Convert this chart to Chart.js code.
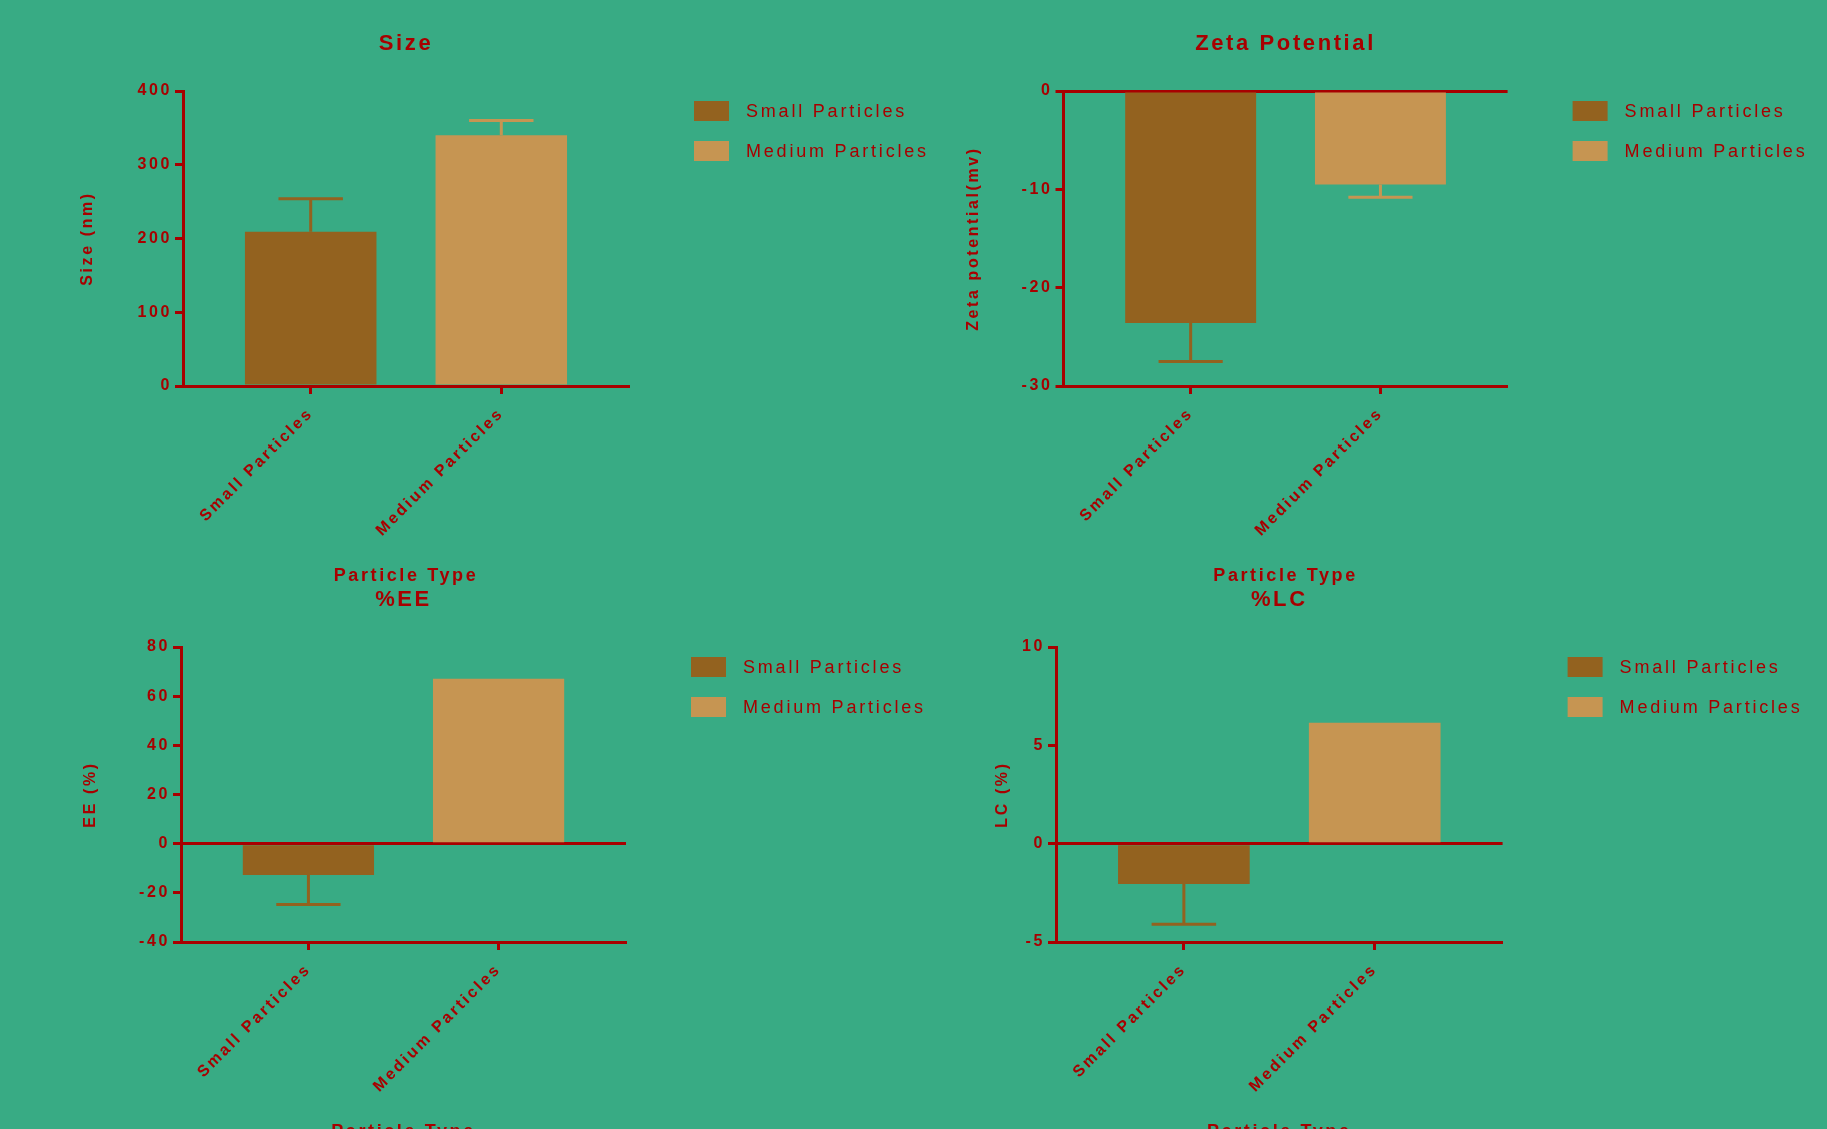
<!DOCTYPE html>
<html>
<head>
<meta charset="utf-8">
<script src="https://cdn.jsdelivr.net/npm/chart.js@4.4.1/dist/chart.umd.min.js"></script>
<style>
  html, body { margin: 0; padding: 0; background: #38ab84; overflow: hidden; }
  body { width: 1827px; height: 1129px; position: relative; }
  canvas { position: absolute; }
</style>
</head>
<body>
<canvas id="chart_size" width="950" height="600" style="left:0px;top:0px"></canvas>
<canvas id="chart_zeta" width="877" height="600" style="left:950px;top:0px"></canvas>
<canvas id="chart_ee" width="950" height="600" style="left:0px;top:556px"></canvas>
<canvas id="chart_lc" width="877" height="600" style="left:950px;top:556px"></canvas>
<script>
// values
const categories = ['Small Particles', 'Medium Particles'];
const x_title = 'Particle Type';

const size_values = [209, 340];
const size_errors = [45, 20];
const size_ticks = [0, 100, 200, 300, 400];

const zeta_values = [-23.6, -9.5];
const zeta_errors = [3.9, 1.3];
const zeta_ticks = [-30, -20, -10, 0];

const ee_values = [-12.7, 67.1];
const ee_errors = [12, 0];
const ee_ticks = [-40, -20, 0, 20, 40, 60, 80];

const lc_values = [-2.05, 6.15];
const lc_errors = [2.05, 0];
const lc_ticks = [-5, 0, 5, 10];

const red = '#a80000';
const bar_colours = ['#93621f', '#c69552'];
const family = '"Liberation Sans", Arial, sans-serif';
Chart.defaults.font.family = family;

// wide letter spacing like the original
const spacingPlugin = {
  id: 'spacing',
  beforeUpdate(chart) { chart.ctx.letterSpacing = '2.6px'; },
  beforeLayout(chart) { chart.ctx.letterSpacing = '2.6px'; },
  beforeDraw(chart) { chart.ctx.letterSpacing = '2.6px'; }
};

// error bars (mean + SD, away from zero)
const errorBarPlugin = {
  id: 'errorBars',
  afterDatasetsDraw(chart) {
    const ctx = chart.ctx;
    const yScale = chart.scales.y;
    chart.data.datasets.forEach((ds, i) => {
      const meta = chart.getDatasetMeta(i);
      meta.data.forEach((bar, j) => {
        const v = ds.data[j].y;
        const e = ds.errors[j];
        if (!e) return;
        const end = yScale.getPixelForValue(v < 0 ? v - e : v + e);
        const half = bar.width * 0.245;
        ctx.save();
        ctx.strokeStyle = ds.backgroundColor;
        ctx.lineWidth = 3;
        ctx.beginPath();
        ctx.moveTo(bar.x, bar.y);
        ctx.lineTo(bar.x, end);
        ctx.moveTo(bar.x - half, end);
        ctx.lineTo(bar.x + half, end);
        ctx.stroke();
        ctx.restore();
      });
    });
  }
};

// legend to the right of the plot, a gap away from it
const sideLegend = {
  id: 'sideLegend',
  afterDraw(chart) {
    const ctx = chart.ctx;
    const area = chart.chartArea;
    ctx.save();
    ctx.letterSpacing = '2.8px';
    ctx.font = '18px ' + family;
    ctx.textBaseline = 'middle';
    chart.data.datasets.forEach((ds, i) => {
      const x = area.right + 65;
      const y = area.top + 10 + i * 40;
      ctx.fillStyle = ds.backgroundColor;
      ctx.fillRect(x, y, 35, 20);
      ctx.fillStyle = red;
      ctx.fillText(ds.label, x + 52, y + 11);
    });
    ctx.restore();
  }
};

function drawChart(canvasId, titleText, yTitleText, values, errors, yTicks, pad) {
  const ctx = document.getElementById(canvasId).getContext('2d');
  return new Chart(ctx, {
    type: 'bar',
    data: {
      datasets: categories.map((name, i) => ({
        label: name,
        data: [{ x: i, y: values[i] }],
        errors: [errors[i]],
        backgroundColor: bar_colours[i],
        borderWidth: 0,
        grouped: false,
        categoryPercentage: 0.69,
        barPercentage: 1
      }))
    },
    options: {
      responsive: false,
      animation: false,
      events: [],
      layout: { padding: { left: pad.left, right: pad.right, top: 0, bottom: 13.2 } },
      plugins: {
        legend: { display: false },
        tooltip: { enabled: false },
        title: {
          display: true,
          text: titleText,
          color: red,
          fullSize: false,
          font: { size: 22, weight: 'bold' },
          padding: { top: 30.8, bottom: 33.8 }
        }
      },
      scales: {
        x: {
          type: 'linear',
          offset: false,
          min: -0.67,
          max: 1.67,
          afterBuildTicks: s => { s.ticks = categories.map((c, i) => ({ value: i })); },
          afterFit: s => { s.height = 200.8; },
          ticks: {
            callback: v => categories[v],
            color: red,
            font: { size: 16, weight: 'bold' },
            minRotation: 45,
            maxRotation: 45,
            autoSkip: false,
            padding: 10
          },
          grid: { offset: false, drawOnChartArea: false, drawTicks: true, tickLength: 8, tickWidth: 3, tickColor: red },
          border: { color: red, width: 3 },
          title: { display: true, text: x_title, color: red, font: { size: 18, weight: 'bold' }, padding: 0 }
        },
        y: {
          min: yTicks[0],
          max: yTicks[yTicks.length - 1],
          afterFit: s => { s.width = pad.yWidth; },
          ticks: { stepSize: yTicks[1] - yTicks[0], color: red, font: { size: 16, weight: 'bold' }, padding: 3 },
          grid: {
            color: c => c.tick && c.tick.value === 0 ? red : 'rgba(0,0,0,0)',
            lineWidth: 3,
            drawTicks: true,
            tickLength: 8,
            tickWidth: 3,
            tickColor: red
          },
          border: { color: red, width: 3 },
          title: { display: true, text: yTitleText, color: red, font: { size: 16, weight: 'bold' }, padding: 0 }
        }
      }
    },
    plugins: [spacingPlugin, errorBarPlugin, sideLegend]
  });
}

let chart_size = drawChart('chart_size', 'Size', 'Size (nm)', size_values, size_errors, size_ticks,
  { left: 78, yWidth: 105, right: 321 });
let chart_zeta = drawChart('chart_zeta', 'Zeta Potential', 'Zeta potential(mv)', zeta_values, zeta_errors, zeta_ticks,
  { left: 14, yWidth: 99.5, right: 319.4 });
let chart_ee = drawChart('chart_ee', '%EE', 'EE (%)', ee_values, ee_errors, ee_ticks,
  { left: 81, yWidth: 100, right: 324 });
let chart_lc = drawChart('chart_lc', '%LC', 'LC (%)', lc_values, lc_errors, lc_ticks,
  { left: 43, yWidth: 63, right: 324.4 });
</script>
</body>
</html>
